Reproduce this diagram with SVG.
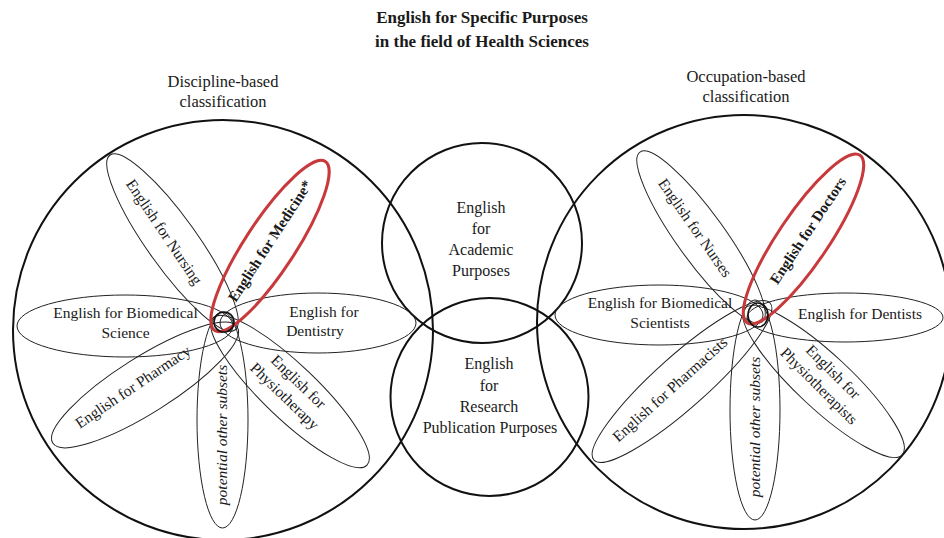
<svg xmlns="http://www.w3.org/2000/svg" width="944" height="538" viewBox="0 0 944 538">
<style>
text{font-family:"Liberation Serif","Times New Roman",serif;fill:#1a1a1a;text-anchor:middle}
.t{font-size:17px;font-weight:bold}
.h{font-size:16.5px}
.c{font-size:16px}
.p{font-size:15.5px}
.b{font-size:15px;font-weight:bold}
.i{font-size:15.5px;font-style:italic}
.big{fill:none;stroke:#111;stroke-width:2}
.pet{fill:none;stroke:#222;stroke-width:1}
.red{fill:none;stroke:#c8393b;stroke-width:3}
.hub{fill:none;stroke:#111;stroke-width:1.6}
</style>
<rect width="944" height="538" fill="#fff"/>
<g id="title">
<text class="t" x="482" y="23">English for Specific Purposes</text>
<text class="t" x="482" y="47">in the field of Health Sciences</text>
</g>
<g id="connectors"></g>
<g id="discipline">
<circle class="big" cx="223" cy="330" r="210"/>
<text class="h" x="223" y="87">Discipline-based</text>
<text class="h" x="223" y="107">classification</text>
</g>
<g id="occupation">
<circle class="big" cx="744" cy="322" r="207"/>
<text class="h" x="746" y="82">Occupation-based</text>
<text class="h" x="746" y="102">classification</text>
</g>
<g id="eap">
<circle class="big" cx="482" cy="243" r="100"/>
<text class="c" x="481" y="213">English</text>
<text class="c" x="481" y="234">for</text>
<text class="c" x="481" y="255">Academic</text>
<text class="c" x="481" y="276">Purposes</text>
</g>
<g id="erpp">
<circle class="big" cx="489.5" cy="397" r="99"/>
<text class="c" x="489" y="369">English</text>
<text class="c" x="489" y="391">for</text>
<text class="c" x="489" y="412">Research</text>
<text class="c" x="490" y="433">Publication Purposes</text>
</g>
<g id="d-nursing">
<ellipse class="pet" cx="172.5" cy="242.5" rx="107.5" ry="25" transform="rotate(54.5 172.5 242.5)"/>
<text class="p" transform="translate(164 232) rotate(56)" y="5">English for Nursing</text>
</g>
<g id="d-biomedical">
<ellipse class="pet" cx="125" cy="326" rx="108" ry="31"/>
<text class="p" x="125.5" y="318">English for Biomedical</text>
<text class="p" x="125.5" y="338">Science</text>
</g>
<g id="d-dentistry">
<ellipse class="pet" cx="318" cy="323" rx="98" ry="30"/>
<text class="p" x="324" y="317">English for</text>
<text class="p" x="315" y="336">Dentistry</text>
</g>
<g id="d-pharmacy">
<ellipse class="pet" cx="145" cy="385" rx="109" ry="28" transform="rotate(-32.2 145 385)"/>
<text class="p" transform="translate(133 387) rotate(-34)" y="5">English for Pharmacy</text>
</g>
<g id="d-physiotherapy">
<ellipse class="pet" cx="290" cy="391.5" rx="106.5" ry="27" transform="rotate(43.7 290 391.5)"/>
<text class="p" transform="translate(291.5 389) rotate(44)"><tspan x="0" y="-5">English for</tspan><tspan x="0" y="15">Physiotherapy</tspan></text>
</g>
<g id="d-other">
<ellipse class="pet" cx="222.5" cy="420" rx="25.5" ry="108"/>
<text class="i" transform="translate(222 435) rotate(-90)" y="5">potential other subsets</text>
</g>
<g id="d-medicine">
<ellipse class="red" cx="270" cy="246" rx="101" ry="25" transform="rotate(-56.8 270 246)"/>
<text class="b" transform="translate(270 241) rotate(-57)" y="5">English for Medicine*</text>
</g>
<g id="d-hub">
<circle class="hub" cx="224" cy="322" r="10"/>
</g>
<g id="o-nurses">
<ellipse class="pet" cx="701" cy="237" rx="104.6" ry="24" transform="rotate(54.3 701 237)"/>
<text class="p" transform="translate(695 228) rotate(55)" y="5">English for Nurses</text>
</g>
<g id="o-biomedical">
<ellipse class="pet" cx="659" cy="315" rx="104" ry="30"/>
<text class="p" x="660" y="308">English for Biomedical</text>
<text class="p" x="660" y="328">Scientists</text>
</g>
<g id="o-dentists">
<ellipse class="pet" cx="845" cy="317.5" rx="98" ry="24.5"/>
<text class="p" x="860" y="319">English for Dentists</text>
</g>
<g id="o-pharmacists">
<ellipse class="pet" cx="682" cy="381.5" rx="118" ry="26" transform="rotate(-41.7 682 381.5)"/>
<text class="p" transform="translate(670 389.5) rotate(-42)" y="5">English for Pharmacists</text>
</g>
<g id="o-physiotherapists">
<ellipse class="pet" cx="823.5" cy="381.5" rx="107.5" ry="27" transform="rotate(43 823.5 381.5)"/>
<text class="p" transform="translate(826 379) rotate(45)"><tspan x="0" y="-5">English for</tspan><tspan x="0" y="15">Physiotherapists</tspan></text>
</g>
<g id="o-other">
<ellipse class="pet" cx="755" cy="410" rx="25" ry="110"/>
<text class="i" transform="translate(755 427) rotate(-90)" y="5">potential other subsets</text>
</g>
<g id="o-doctors">
<ellipse class="red" cx="803.5" cy="239" rx="101" ry="25" transform="rotate(-56 803.5 239)"/>
<text class="b" transform="translate(808 230.5) rotate(-56.3)" y="5">English for Doctors</text>
</g>
<g id="o-hub">
<ellipse class="hub" cx="758" cy="315" rx="10" ry="12"/>
</g>
</svg>
